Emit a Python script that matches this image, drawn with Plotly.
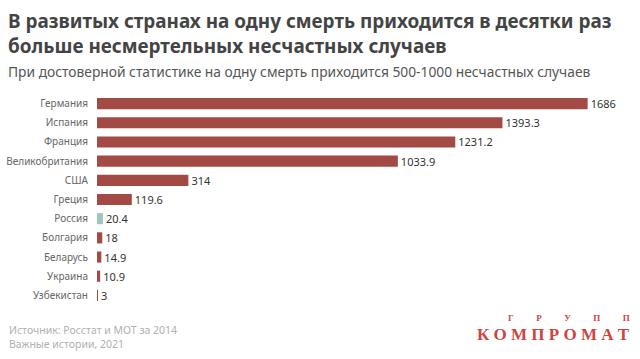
import plotly.graph_objects as go

countries = ["Германия", "Испания", "Франция", "Великобритания", "США", "Греция",
             "Россия", "Болгария", "Беларусь", "Украина", "Узбекистан"]
values = [1686, 1393.3, 1231.2, 1033.9, 314, 119.6, 20.4, 18, 14.9, 10.9, 3]
labels = ["1686", "1393.3", "1231.2", "1033.9", "314", "119.6", "20.4", "18", "14.9", "10.9", "3"]

RED = "#a44a44"
TEAL = "#9fc6bc"
colors = [TEAL if c == "Россия" else RED for c in countries]

FONT = "Noto Sans"
W, H = 640, 359
ML, MR, MT, MB = 97, 0, 94, 54
PW, PH = W - ML - MR, H - MT - MB


def px(x):
    return (x - ML) / PW


def py(y):
    return (H - y - MB) / PH


fig = go.Figure(go.Bar(
    x=values, y=countries, orientation="h",
    marker=dict(color=colors, line=dict(width=0)),
    text=labels, textposition="outside", cliponaxis=False, constraintext="none",
    textfont=dict(family=FONT, size=11, color="#333"),
    hoverinfo="skip",
))


def ann(text, x, y, size, color, family=FONT, xanchor="left"):
    return dict(text=text, x=px(x), y=py(y), xref="paper", yref="paper",
                showarrow=False, xanchor=xanchor, yanchor="middle", align="left",
                font=dict(family=family, size=size, color=color))


SP = "\u2003\u2003\u2002"
annotations = [
    ann("<b>В развитых странах на одну смерть приходится в десятки раз<br>"
        "больше несмертельных несчастных случаев</b>", 6, 34, 18.9, "#444"),
    ann("При достоверной статистике на одну смерть приходится 500-1000 несчастных случаев", 6, 71, 13.8, "#555"),
    ann("Источник: Росстат и МОТ за 2014<br>Важные истории, 2021", 7, 337, 10.5, "#b0b0b0"),
    ann("<b>К О М П Р О М А Т</b>", 632, 334, 17, "#d0433f", family="Liberation Serif", xanchor="right"),
    ann("<b>" + SP.join("ГРУПП") + "</b>", 632, 318, 9, "#d0433f",
        family="Liberation Serif", xanchor="right"),
]

fig.update_layout(
    width=W, height=H,
    margin=dict(l=ML, r=MR, t=MT, b=MB, autoexpand=False),
    paper_bgcolor="white", plot_bgcolor="white",
    bargap=0.42,
    showlegend=False,
    xaxis=dict(range=[0, 1866], visible=False, fixedrange=True, automargin=False),
    yaxis=dict(categoryorder="array", categoryarray=countries[::-1],
               showgrid=False, zeroline=False, showline=False, automargin=False,
               ticks="", ticklabelstandoff=8,
               tickfont=dict(family=FONT, size=10, color="#666"), fixedrange=True),
    annotations=annotations,
)
fig.write_html("out.html", config={"displayModeBar": False},
               post_script="document.body.style.margin='0';document.body.style.overflow='hidden';")
